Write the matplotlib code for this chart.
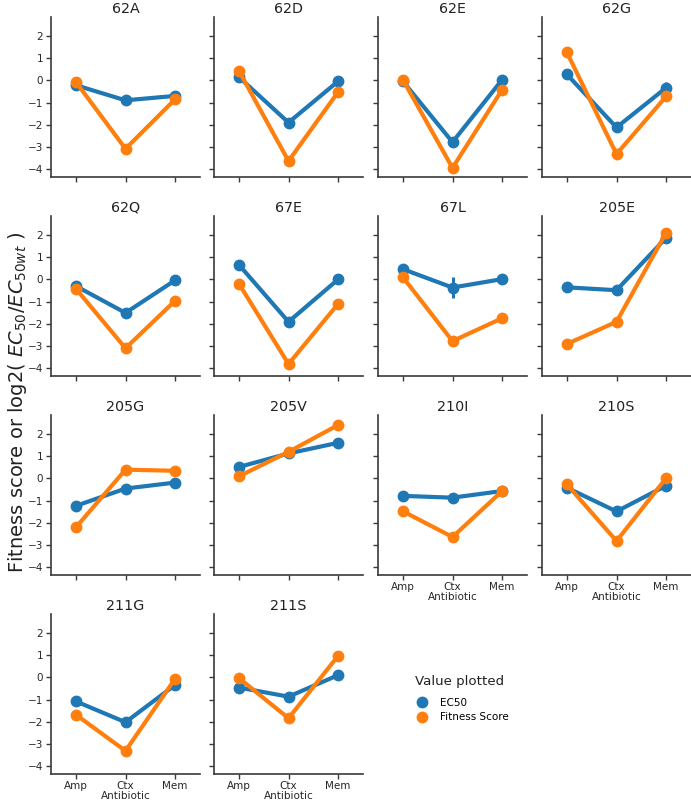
import matplotlib
matplotlib.use("Agg")
import matplotlib.pyplot as plt
from matplotlib.lines import Line2D
import numpy as np

plt.rcParams["mathtext.fontset"] = "dejavusans"

antibiotics = ["Amp", "Ctx", "Mem"]
mutants = ["62A", "62D", "62E", "62G", "62Q", "67E", "67L", "205E",
           "205G", "205V", "210I", "210S", "211G", "211S"]

ec50 = {
    "62A": [-0.22, -0.90, -0.70],
    "62D": [0.15, -1.90, -0.04],
    "62E": [-0.04, -2.78, 0.03],
    "62G": [0.27, -2.12, -0.33],
    "62Q": [-0.30, -1.51, -0.04],
    "67E": [0.66, -1.91, 0.00],
    "67L": [0.46, -0.37, 0.01],
    "205E": [-0.36, -0.49, 1.87],
    "205G": [-1.24, -0.46, -0.19],
    "205V": [0.51, 1.12, 1.60],
    "210I": [-0.79, -0.87, -0.57],
    "210S": [-0.42, -1.49, -0.33],
    "211G": [-1.08, -2.02, -0.34],
    "211S": [-0.46, -0.87, 0.10],
}
ec50_err = {
    "62G": [0.0, 0.20, 0.25],
    "67L": [0.18, 0.48, 0.0],
}
fitness = {
    "62A": [-0.07, -3.08, -0.85],
    "62D": [0.43, -3.63, -0.52],
    "62E": [0.03, -3.94, -0.42],
    "62G": [1.26, -3.32, -0.72],
    "62Q": [-0.42, -3.10, -0.96],
    "67E": [-0.19, -3.81, -1.10],
    "67L": [0.10, -2.78, -1.75],
    "205E": [-2.91, -1.91, 2.10],
    "205G": [-2.21, 0.39, 0.34],
    "205V": [0.09, 1.19, 2.40],
    "210I": [-1.48, -2.64, -0.57],
    "210S": [-0.27, -2.82, 0.01],
    "211G": [-1.68, -3.31, -0.06],
    "211S": [-0.03, -1.84, 0.97],
}

BLUE = "#1f77b4"
ORANGE = "#ff7f0e"
W, H = 691, 802
fig = plt.figure(figsize=(W / 100, H / 100), dpi=100)

lefts = [51, 214, 378, 542]
tops = [17, 216, 415, 614]
aw, ah = 149, 160
tick_col = "#262626"

bottom_row = {"210I", "210S", "211G", "211S"}
for i, m in enumerate(mutants):
    r, c = divmod(i, 4)
    ax = fig.add_axes([lefts[c] / W, (H - tops[r] - ah) / H, aw / W, ah / H])
    x = np.arange(len(antibiotics))
    err = ec50_err.get(m)
    if err is not None:
        ax.errorbar(x, ec50[m], yerr=err, fmt="none", ecolor=BLUE, elinewidth=2.2, zorder=2)
    ax.plot(x, ec50[m], color=BLUE, lw=3, marker="o", ms=7.5, zorder=3)
    ax.plot(x, fitness[m], color=ORANGE, lw=3, marker="o", ms=7.5, zorder=4)
    ax.set_xlim(-0.5, 2.5)
    ax.set_ylim(-4.35, 2.85)
    ax.set_yticks([-4, -3, -2, -1, 0, 1, 2])
    ax.set_xticks(x)
    for s in ["top", "right"]:
        ax.spines[s].set_visible(False)
    for s in ["left", "bottom"]:
        ax.spines[s].set_linewidth(1.2)
        ax.spines[s].set_color("#3a3a3a")
    ax.tick_params(axis="both", labelsize=7.5, colors="#3a3a3a", labelcolor=tick_col,
                   width=1.0, length=3.5, pad=2)
    ax.tick_params(axis="x", pad=1.5)
    if c == 0:
        ax.set_yticklabels([str(v).replace("-", "\u2212") for v in [-4, -3, -2, -1, 0, 1, 2]])
    else:
        ax.set_yticklabels([])
    if m in bottom_row:
        ax.set_xticklabels(antibiotics)
        ax.set_xlabel("Antibiotic", fontsize=7.5, color=tick_col, labelpad=0)
    else:
        ax.set_xticklabels([])
    ax.set_title(m, fontsize=10.3, color="#222222", pad=3)

fig.text(18 / W, 1 - 402 / H, "Fitness score or log2( $EC_{50}/EC_{50wt}$ )",
         rotation=90, ha="center", va="center", fontsize=14,
         color="#222222")

handles = [Line2D([], [], ls="none", marker="o", ms=7.5, color=BLUE),
           Line2D([], [], ls="none", marker="o", ms=7.5, color=ORANGE)]
leg = fig.legend(handles, ["EC50", "Fitness Score"], loc="upper left",
                 bbox_to_anchor=(406 / W, 1 - 666 / H), frameon=False,
                 fontsize=7.5, title="Value plotted", handletextpad=1.2,
                 labelspacing=0.4, handlelength=1.2)
leg.get_title().set_fontsize(9.6)
leg.get_title().set_color("#222222")
leg._legend_box.align = "left"
leg._legend_box.sep = 7

fig.savefig("out.png", dpi=100)
